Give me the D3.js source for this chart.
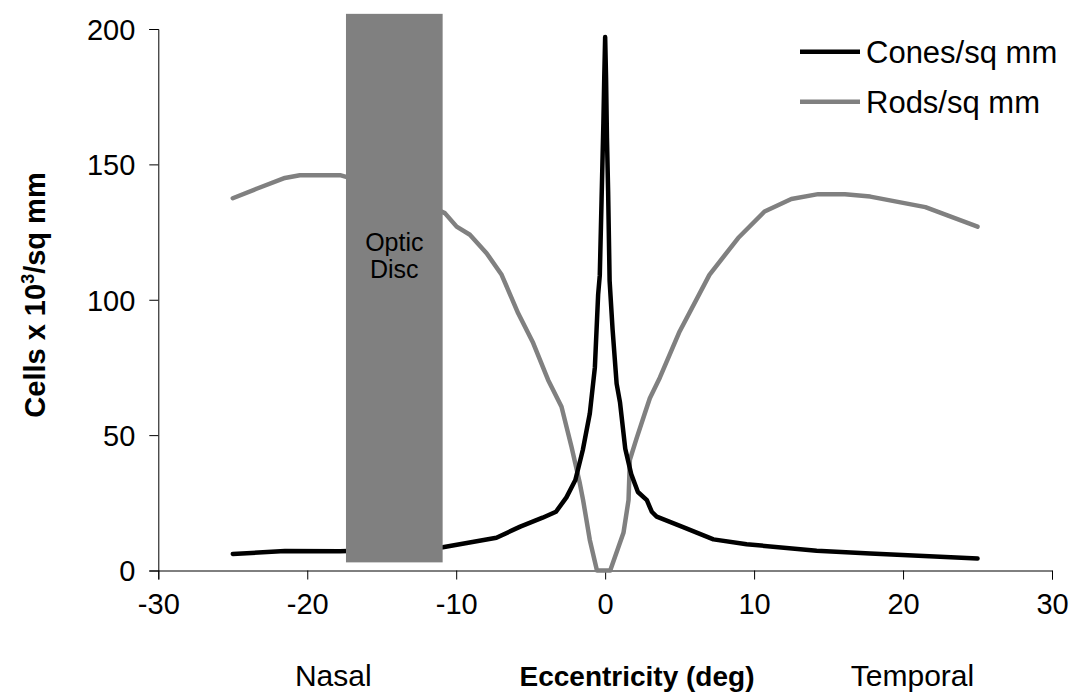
<!DOCTYPE html>
<html>
<head>
<meta charset="utf-8">
<script src="https://cdn.jsdelivr.net/npm/d3@7"></script>
<style>
  html, body { margin: 0; padding: 0; background: #fff; }
  svg { display: block; font-family: "Liberation Sans", Arial, sans-serif; }
</style>
</head>
<body>
<svg id="chart" width="1077" height="695"></svg>
<script>
// ---- data ----
const coneX = [-25, -21.5, -17.8, -14, -10.9, -7.3, -5.7, -4.2, -3.3, -2.6, -2.0, -1.5, -1.03, -0.69, -0.47, -0.36, -0.24, -0.12, -0.06, 0, 0.06, 0.12, 0.2, 0.3, 0.5, 0.77, 1.0, 1.35, 1.75, 2.2, 2.8, 3.13, 3.46, 5.15, 7.27, 9.5, 14.2, 17.8, 25];
const coneY = [6.1, 7.2, 7.1, 7.8, 8.6, 12.1, 16.2, 19.5, 21.7, 27, 33.4, 44.5, 58, 75, 102, 109, 137, 165, 182, 197, 182, 160, 140, 107, 89, 69, 62, 45, 35.6, 29, 26, 21.7, 19.9, 16.2, 11.5, 9.7, 7.3, 6.3, 4.4];

const rodX = [-25, -23.4, -21.5, -20.5, -17.8, -14, -10.76, -9.97, -9.08, -7.96, -6.95, -5.84, -4.83, -3.83, -2.93, -2.26, -1.70, -1.48, -1.03, -0.55, 0.34, 1.23, 1.57, 1.66, 2.11, 2.66, 3.0, 3.67, 5.0, 7.0, 8.93, 10.7, 12.5, 14.3, 16.1, 17.8, 21.5, 25];
const rodY = [137.5, 141, 145, 146, 146, 140, 132, 127, 124, 117.2, 109.2, 95, 84, 70.4, 60.5, 45.7, 32.2, 26, 11.3, 0, 0, 13.9, 26, 40.9, 48.8, 58, 63.6, 71.2, 88.3, 109.2, 122.8, 132.6, 137.2, 139, 139, 138.1, 134.2, 127];

const xTicks = [-30, -20, -10, 0, 10, 20, 30];
const yTicks = [0, 50, 100, 150, 200];
const seriesNames = ["Cones/sq mm", "Rods/sq mm"];
const discRange = [-17.4, -10.91];   // optic disc extent (deg)
const discHeight = [3, 205.6];       // drawn band (cells x10^3)

// ---- layout ----
const svg = d3.select("#chart");
const x = d3.scaleLinear().domain([-30, 30]).range([158.3, 1052]);
const y = d3.scaleLinear().domain([0, 200]).range([570.5, 29]);
const FONT = '"Liberation Sans", Arial, sans-serif';
const fmt = d => String(d);   // plain hyphen-minus like the reference

svg.append("rect").attr("width", 1077).attr("height", 695).attr("fill", "#fff");

// axes
const yAxis = svg.append("g").attr("transform", `translate(${x(-30)},0)`)
  .call(d3.axisLeft(y).tickValues(yTicks).tickSize(9).tickPadding(14).tickFormat(fmt));
const xAxis = svg.append("g").attr("transform", `translate(0,${y(0)})`)
  .call(d3.axisBottom(x).tickValues(xTicks).tickSize(9).tickPadding(14).tickFormat(fmt));
[xAxis, yAxis].forEach(g => {
  g.select(".domain").attr("stroke", "#000").attr("stroke-width", 1);
  g.selectAll(".tick line").attr("stroke", "#000").attr("stroke-width", 1);
  g.selectAll(".tick text").attr("fill", "#000").style("font-family", FONT).style("font-size", "29px");
});
yAxis.selectAll(".tick text").attr("dy", "0.36em");
xAxis.selectAll(".tick text").attr("dy", "0.71em");

// lines
const line = d3.line().x(d => x(d[0])).y(d => y(d[1]));
const cones = coneX.map((v, i) => [v, coneY[i]]);
const rods = rodX.map((v, i) => [v, rodY[i]]);

svg.append("path").datum(rods).attr("d", line)
  .attr("fill", "none").attr("stroke", "#808080").attr("stroke-width", 4.5)
  .attr("stroke-linejoin", "round").attr("stroke-linecap", "round");
svg.append("path").datum(cones).attr("d", line)
  .attr("fill", "none").attr("stroke", "#000").attr("stroke-width", 4.5)
  .attr("stroke-linejoin", "round").attr("stroke-linecap", "round");

// optic disc
svg.append("rect")
  .attr("x", x(discRange[0])).attr("width", x(discRange[1]) - x(discRange[0]))
  .attr("y", y(discHeight[1])).attr("height", y(discHeight[0]) - y(discHeight[1]))
  .attr("fill", "#808080");
const discCx = (x(discRange[0]) + x(discRange[1])) / 2;
svg.append("text").attr("x", discCx).attr("y", 251).attr("text-anchor", "middle")
  .style("font-size", "25px").attr("fill", "#000").text("Optic");
svg.append("text").attr("x", discCx).attr("y", 278).attr("text-anchor", "middle")
  .style("font-size", "25px").attr("fill", "#000").text("Disc");

// legend
const legendColors = ["#000", "#808080"];
const legendY = [51.7, 101.7];
seriesNames.forEach((name, i) => {
  svg.append("line").attr("x1", 800).attr("x2", 860).attr("y1", legendY[i]).attr("y2", legendY[i])
    .attr("stroke", legendColors[i]).attr("stroke-width", 4.5);
  svg.append("text").attr("x", 866).attr("y", legendY[i]).attr("dy", "0.36em")
    .style("font-size", "31px").attr("fill", "#000").text(name);
});

// axis titles
const bottomY = 686;
svg.append("text").attr("x", 333.3).attr("y", bottomY).attr("text-anchor", "middle")
  .style("font-size", "30px").text("Nasal");
svg.append("text").attr("x", 637).attr("y", bottomY).attr("text-anchor", "middle")
  .style("font-size", "28px").style("font-weight", "bold").text("Eccentricity (deg)");
svg.append("text").attr("x", 912.5).attr("y", bottomY).attr("text-anchor", "middle")
  .style("font-size", "30px").text("Temporal");

const yt = svg.append("text").attr("transform", "translate(45,295) rotate(-90)")
  .attr("text-anchor", "middle").style("font-size", "29px").style("font-weight", "bold");
yt.append("tspan").text("Cells x 10");
yt.append("tspan").attr("dy", -11).style("font-size", "18px").text("3");
yt.append("tspan").attr("dy", 11).text("/sq mm");
</script>
</body>
</html>
